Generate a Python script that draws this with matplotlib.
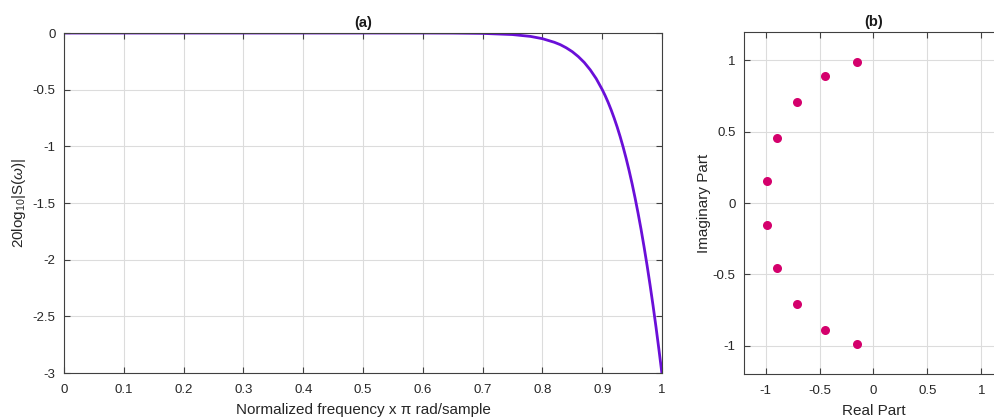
import matplotlib
matplotlib.use("Agg")
import matplotlib.pyplot as plt

plt.rcParams['font.family'] = ['Liberation Sans', 'DejaVu Sans']
plt.rcParams['mathtext.fontset'] = 'custom'
plt.rcParams['mathtext.rm'] = 'Liberation Sans'
plt.rcParams['mathtext.it'] = 'Liberation Sans:italic'

# Panel (a): magnitude response
freq = [0.0, 0.1, 0.2, 0.3, 0.4, 0.5, 0.6, 0.65, 0.7, 0.75, 0.78, 0.8, 0.82, 0.83,
        0.84, 0.85, 0.86, 0.87, 0.88, 0.89, 0.9, 0.905, 0.91, 0.915, 0.92, 0.925,
        0.93, 0.935, 0.94, 0.945, 0.95, 0.955, 0.96, 0.965, 0.97, 0.975, 0.98,
        0.985, 0.99, 0.995, 1.0]
mag_db = [0.0, 0.0, 0.0, 0.0, 0.0, 0.0, -0.0002, -0.0008, -0.0035, -0.0138, -0.030,
          -0.050, -0.082, -0.103, -0.131, -0.165, -0.208, -0.260, -0.325, -0.403,
          -0.499, -0.553, -0.613, -0.679, -0.751, -0.829, -0.914, -1.006, -1.106,
          -1.214, -1.330, -1.456, -1.590, -1.733, -1.887, -2.049, -2.222, -2.404,
          -2.596, -2.799, -3.010]

# Panel (b): pole locations
pole_re = [-0.156, -0.454, -0.707, -0.891, -0.988, -0.988, -0.891, -0.707, -0.454, -0.156]
pole_im = [0.988, 0.891, 0.707, 0.454, 0.156, -0.156, -0.454, -0.707, -0.891, -0.988]

xticks_a = [0, 0.1, 0.2, 0.3, 0.4, 0.5, 0.6, 0.7, 0.8, 0.9, 1]
yticks_a = [0, -0.5, -1, -1.5, -2, -2.5, -3]
ticks_b = [-1, -0.5, 0, 0.5, 1]

W, H = 995, 419
fig = plt.figure(figsize=(W / 100, H / 100), dpi=100)

axis_col = '#404040'
tick_col = '#262626'

def style(ax):
    for s in ax.spines.values():
        s.set_color(axis_col)
        s.set_linewidth(0.8)
    ax.tick_params(direction='in', length=4, width=0.8, colors=axis_col,
                   labelcolor=tick_col, labelsize=9.5, top=True, right=True)
    ax.tick_params(axis='x', pad=8)
    ax.tick_params(axis='y', pad=6)
    ax.grid(True, color='#dcdcdc', linewidth=0.8)
    ax.set_axisbelow(True)

ax1 = fig.add_axes([64 / W, 1 - 373 / H, 598 / W, 340 / H])
ax1.plot(freq, mag_db, color='#6a0fd8', linewidth=2)
ax1.set_xlim(0, 1)
ax1.set_ylim(-3, 0)
ax1.set_xticks(xticks_a)
ax1.set_xticklabels([f'{t:g}' for t in xticks_a])
ax1.set_yticks(yticks_a)
ax1.set_yticklabels([f'{t:g}' for t in yticks_a])
style(ax1)
ax1.set_title('(a)', fontsize=10.5, fontweight='bold', pad=4, color='#1a1a1a')
ax1.set_xlabel('Normalized frequency x \u03c0 rad/sample', fontsize=11, color=tick_col, labelpad=5)
ax1.set_ylabel(r'20log$_{10}$|S($\it{\omega}$)|', fontsize=11, color=tick_col, labelpad=3)

ax2 = fig.add_axes([744 / W, 1 - 374 / H, 259 / W, 342 / H])
ax2.plot(pole_re, pole_im, 'o', color='#d4006c', markersize=6.5, markeredgewidth=0)
ax2.set_xlim(-1.2, 1.2)
ax2.set_ylim(-1.2, 1.2)
ax2.set_xticks(ticks_b)
ax2.set_xticklabels([f'{t:g}' for t in ticks_b])
ax2.set_yticks(ticks_b)
ax2.set_yticklabels([f'{t:g}' for t in ticks_b])
style(ax2)
ax2.set_title('(b)', fontsize=10.5, fontweight='bold', pad=4, color='#1a1a1a')
ax2.set_xlabel('Real Part', fontsize=11, color=tick_col, labelpad=5)
ax2.set_ylabel('Imaginary Part', fontsize=11, color=tick_col, labelpad=1)

fig.savefig('out.png', dpi=100)
